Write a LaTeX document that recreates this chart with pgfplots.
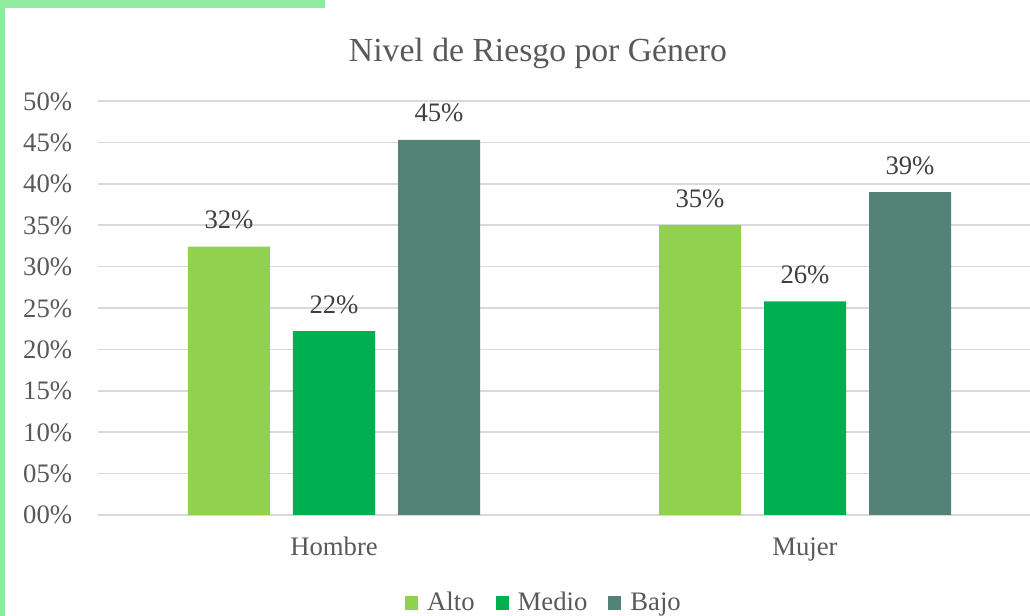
\documentclass[border=0pt]{standalone}
\usepackage{pgfplots}
\pgfplotsset{compat=1.18}
\usepackage{fontspec}
\setmainfont{Liberation Serif}
\definecolor{alto}{HTML}{92D050}
\definecolor{medio}{HTML}{00B050}
\definecolor{bajo}{HTML}{548276}
\definecolor{frame}{HTML}{8EEBA0}
\definecolor{txt}{HTML}{595959}
\definecolor{lbl}{HTML}{404040}
\definecolor{grd}{HTML}{D9D9D9}
\begin{document}
\begin{tikzpicture}
\clip (0,0) rectangle (515pt,308pt);
\fill[white] (0,0) rectangle (515pt,308pt);
\begin{axis}[
  at={(49.25pt,50.5pt)}, anchor=south west,
  scale only axis, width=471pt, height=207pt,
  ybar=11.5pt, bar width=41pt,
  xmin=-0.5, xmax=1.5, ymin=0, ymax=50,
  xtick={0,1}, xticklabels={Hombre,Mujer},
  ytick={0,5,...,50},
  yticklabels={00\%,05\%,10\%,15\%,20\%,25\%,30\%,35\%,40\%,45\%,50\%},
  major tick length=0pt,
  axis line style={draw=none},
  ymajorgrids, grid style={grd, line width=0.75pt},
  /pgf/number format/assume math mode=true,
  ticklabel style={font=\fontsize{13.35}{16}\selectfont, text=txt, inner sep=0pt},
  yticklabel style={anchor=base east, xshift=-13pt, yshift=-4.5pt},
  xticklabel style={anchor=base, yshift=-20.5pt},
  nodes near coords={\pgfmathprintnumber[fixed,precision=0]{\pgfplotspointmeta}\%},
  nodes near coords style={font=\fontsize{13.35}{16}\selectfont, text=lbl, anchor=base, yshift=9pt, inner sep=0pt},
  legend columns=-1,
  legend style={draw=none, fill=none, at={(0.474,-0.213)}, anchor=center,
    font=\fontsize{13.35}{16}\selectfont, text=txt,
    /tikz/every even column/.append style={column sep=8.5pt}},
  legend image code/.code={\fill[#1] (0pt,-3.2pt) rectangle (6.5pt,3.4pt); \path (9pt,0pt);},
  clip=false,
]
\addplot[fill=alto, draw=none] coordinates {(0,32.4) (1,35.0)};
\addplot[fill=medio, draw=none] coordinates {(0,22.2) (1,25.8)};
\addplot[fill=bajo, draw=none] coordinates {(0,45.3) (1,39.0)};
\legend{Alto,Medio,Bajo}
\end{axis}
\node[anchor=base, text=txt, font=\fontsize{16.85}{20}\selectfont, inner sep=0pt] at (269pt,277pt) {Nivel de Riesgo por Género};
\fill[frame] (0,0) rectangle (2.5pt,308pt);
\fill[frame] (0,303.8pt) rectangle (162.5pt,308pt);
\end{tikzpicture}
\end{document}
